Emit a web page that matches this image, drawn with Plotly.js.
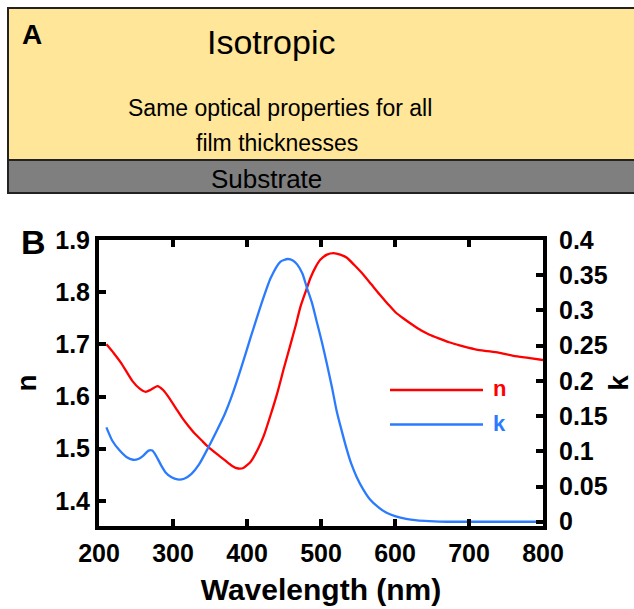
<!DOCTYPE html>
<html>
<head>
<meta charset="utf-8">
<script src="https://cdn.plot.ly/plotly-3.0.1.min.js"></script>
<style>html,body{margin:0;padding:0;background:#fff;}#chart{width:634px;height:609px;}</style>
</head>
<body>
<div id="chart"></div>
<script>
// Refractive index n (left axis)
const nWavelength = [210,220,230,245,255,263,270,279,287,295,305,312,320,330,340,348,360,370,380,388,395,405,415,423,432,441,450,459,466,472,479,486,493,499,508,517,526,535,545,557,568,579,590,601,612,624,635,646,660,673,685,695,710,725,740,760,780,800];
const nValues = [1.700,1.683,1.664,1.630,1.615,1.609,1.613,1.620,1.612,1.597,1.575,1.560,1.545,1.528,1.514,1.503,1.489,1.478,1.467,1.462,1.463,1.475,1.500,1.526,1.565,1.607,1.655,1.701,1.737,1.771,1.800,1.828,1.849,1.862,1.872,1.875,1.872,1.866,1.852,1.834,1.815,1.796,1.778,1.761,1.749,1.737,1.727,1.719,1.711,1.704,1.699,1.695,1.690,1.687,1.684,1.678,1.674,1.670];

// Extinction coefficient k (right axis)
const kWavelength = [210,218,228,237,246,253,260,267,272,277,284,290,298,306,315,325,335,348,360,370,380,392,405,419,432,445,455,462,468,475,481,488,494,501,508,515,521,528,535,541,548,557,566,577,588,600,615,630,646,670,700,750,800];
const kValues = [0.134,0.115,0.101,0.092,0.088,0.089,0.094,0.101,0.101,0.094,0.080,0.070,0.063,0.060,0.061,0.068,0.081,0.106,0.131,0.153,0.180,0.218,0.262,0.308,0.346,0.369,0.373,0.371,0.365,0.352,0.332,0.310,0.285,0.256,0.224,0.190,0.158,0.129,0.102,0.082,0.064,0.046,0.032,0.021,0.013,0.008,0.004,0.002,0.001,0.000,0.000,0.000,0.000];

const xTicks = [200,300,400,500,600,700,800];
const nTicks = [1.4,1.5,1.6,1.7,1.8,1.9];
const kTicks = [0,0.05,0.1,0.15,0.2,0.25,0.3,0.35,0.4];
const kTickText = ['0','0.05','0.1','0.15','0.2','0.25','0.3','0.35','0.4'];
const seriesNames = ['n','k'];

const RED = '#ff0000';
const BLUE = '#2b7bff';
const FONT = 'Liberation Sans, Arial, sans-serif';

// plot area in pixels: left 99, right 543, top 240, bottom 526
const L = 99, R = 543, T = 240, B = 526;
const px = x => (x - L) / (R - L);
const py = y => (B - y) / (B - T);

const traces = [
  {x: nWavelength, y: nValues, name: seriesNames[0], type: 'scatter', mode: 'lines',
   line: {color: RED, width: 2.3, shape: 'spline', smoothing: 0.6}, yaxis: 'y', showlegend: false},
  {x: kWavelength, y: kValues, name: seriesNames[1], type: 'scatter', mode: 'lines',
   line: {color: BLUE, width: 2.3, shape: 'spline', smoothing: 0.6}, yaxis: 'y2', showlegend: false}
];

const tickFont = {family: FONT, size: 25, color: '#000', weight: 'bold'};

const layout = {
  width: 634, height: 609,
  margin: {l: L, r: 634 - R, t: T, b: 609 - B, pad: 0},
  paper_bgcolor: '#fff', plot_bgcolor: '#fff',
  showlegend: false,
  xaxis: {
    range: [200, 800], tickvals: xTicks, ticktext: xTicks.map(String),
    ticks: 'inside', ticklen: 7, tickwidth: 4, tickcolor: '#000',
    showline: true, linewidth: 4, linecolor: '#000', mirror: 'ticks',
    showgrid: false, zeroline: false, tickfont: tickFont, ticklabelstandoff: 2,
    title: {text: 'Wavelength (nm)', font: {family: FONT, size: 30, color: '#000', weight: 'bold'}, standoff: 14}
  },
  yaxis: {
    range: [1.3518, 1.9], tickvals: nTicks, ticktext: nTicks.map(v => v.toFixed(1)),
    ticks: 'inside', ticklen: 7, tickwidth: 4, tickcolor: '#000',
    showline: true, linewidth: 4, linecolor: '#000',
    showgrid: false, zeroline: false, tickfont: tickFont,
    title: {text: 'n', font: {family: FONT, size: 28, color: '#000', weight: 'bold'}, standoff: 11}
  },
  yaxis2: {
    overlaying: 'y', side: 'right',
    range: [-0.00606, 0.4], tickvals: kTicks, ticktext: kTickText,
    ticks: 'inside', ticklen: 7, tickwidth: 4, tickcolor: '#000',
    showline: true, linewidth: 4, linecolor: '#000',
    showgrid: false, zeroline: false, tickfont: tickFont, ticklabelstandoff: 7,
    title: {text: 'k', font: {family: FONT, size: 28, color: '#000', weight: 'bold'}, standoff: 4}
  },
  shapes: [
    // Panel A: film and substrate
    {type: 'rect', xref: 'paper', yref: 'paper', x0: px(8), x1: px(645), y0: py(160), y1: py(8),
     fillcolor: '#ffe699', line: {color: '#222', width: 2}, layer: 'below'},
    {type: 'rect', xref: 'paper', yref: 'paper', x0: px(8), x1: px(645), y0: py(193), y1: py(160),
     fillcolor: '#7f7f7f', line: {color: '#222', width: 2}, layer: 'below'},
    // legend lines
    {type: 'line', xref: 'paper', yref: 'paper', x0: px(390), x1: px(483), y0: py(390), y1: py(390),
     line: {color: RED, width: 2.5}},
    {type: 'line', xref: 'paper', yref: 'paper', x0: px(390), x1: px(483), y0: py(424.5), y1: py(424.5),
     line: {color: BLUE, width: 2.5}}
  ],
  annotations: [
    {text: 'A', xref: 'paper', yref: 'paper', x: px(32), y: py(35), showarrow: false,
     xanchor: 'center', yanchor: 'middle', font: {family: FONT, size: 28, color: '#000', weight: 'bold'}},
    {text: 'Isotropic', xref: 'paper', yref: 'paper', x: px(271), y: py(42), showarrow: false,
     xanchor: 'center', yanchor: 'middle', font: {family: FONT, size: 34, color: '#000'}},
    {text: 'Same optical properties for all', xref: 'paper', yref: 'paper', x: px(280), y: py(108), showarrow: false,
     xanchor: 'center', yanchor: 'middle', font: {family: FONT, size: 23, color: '#000'}},
    {text: 'film thicknesses', xref: 'paper', yref: 'paper', x: px(276.5), y: py(143), showarrow: false,
     xanchor: 'center', yanchor: 'middle', font: {family: FONT, size: 23, color: '#000'}},
    {text: 'Substrate', xref: 'paper', yref: 'paper', x: px(266.5), y: py(179), showarrow: false,
     xanchor: 'center', yanchor: 'middle', font: {family: FONT, size: 26, color: '#000'}},
    {text: 'B', xref: 'paper', yref: 'paper', x: px(33), y: py(242), showarrow: false,
     xanchor: 'center', yanchor: 'middle', font: {family: FONT, size: 34, color: '#000', weight: 'bold'}},
    {text: seriesNames[0], xref: 'paper', yref: 'paper', x: px(499), y: py(388), showarrow: false,
     xanchor: 'center', yanchor: 'middle', font: {family: FONT, size: 22, color: RED, weight: 'bold'}},
    {text: seriesNames[1], xref: 'paper', yref: 'paper', x: px(499), y: py(423), showarrow: false,
     xanchor: 'center', yanchor: 'middle', font: {family: FONT, size: 22, color: BLUE, weight: 'bold'}}
  ]
};

Plotly.newPlot('chart', traces, layout, {displayModeBar: false, staticPlot: true});
</script>
</body>
</html>
